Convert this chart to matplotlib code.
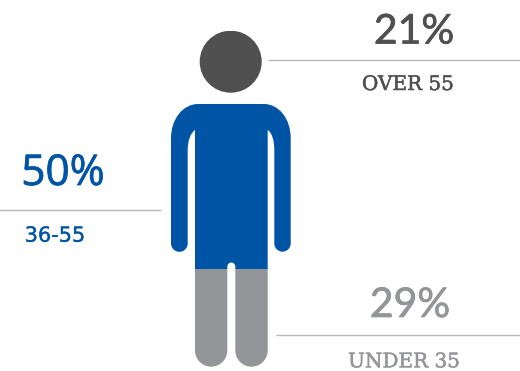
import matplotlib
matplotlib.use("Agg")
import numpy as np
import matplotlib.pyplot as plt
import matplotlib.patheffects as pe
from matplotlib.path import Path

# age groups, stacked from the feet upwards
groups = ["UNDER 35", "36-55", "OVER 55"]
shares = [29, 50, 21]
share_labels = ["29%", "50%", "21%"]
colors = ["#939598", "#0054a6", "#505050"]

W, H = 520, 371
FEET, CROWN = 366.7, 30.7  # pixel rows of the figure's full height


def body_path():
    """outline of the head and body in pixel coordinates"""
    k = 0.5523
    verts, codes = [], []

    def move(p):
        verts.append(p)
        codes.append(Path.MOVETO)

    def line(p):
        verts.append(p)
        codes.append(Path.LINETO)

    def curve(c1, c2, p):
        verts.extend([c1, c2, p])
        codes.extend([Path.CURVE4] * 3)

    def foot(x0, x1, y):
        # half circle from x0 to x1 that bulges away from y
        r = abs(x1 - x0) / 2
        s = 1 if x1 > x0 else -1
        curve((x0, y + k * r), (x0 + s * (1 - k) * r, y + r), (x0 + s * r, y + r))
        curve((x0 + s * (1 + k) * r, y + r), (x1, y + k * r), (x1, y))

    # torso and arms
    move((171, 138))
    curve((171, 119), (183, 104), (198, 104))
    line((264, 104))
    curve((279, 104), (290.7, 119), (290.7, 138))
    line((290.7, 243.5))
    foot(290.7, 274.3, 243.5)
    line((274.3, 150))
    curve((274.3, 140), (272, 133), (267.7, 130))
    # legs
    line((267.7, 350.5))
    foot(267.7, 235.3, 350.5)
    line((235.3, 267))
    curve((235.3, 261), (227.3, 261), (227.3, 267))
    line((227.3, 350.5))
    foot(227.3, 195, 350.5)
    line((195, 130))
    curve((190.7, 133), (187.7, 140), (187.7, 150))
    line((187.7, 243.5))
    foot(187.7, 171, 243.5)
    line((171, 138))
    verts.append((171, 138))
    codes.append(Path.CLOSEPOLY)

    # head
    cx, cy, r = 230.7, 61.7, 31
    move((cx - r, cy))
    curve((cx - r, cy - k * r), (cx - k * r, cy - r), (cx, cy - r))
    curve((cx + k * r, cy - r), (cx + r, cy - k * r), (cx + r, cy))
    curve((cx + r, cy + k * r), (cx + k * r, cy + r), (cx, cy + r))
    curve((cx - k * r, cy + r), (cx - r, cy + k * r), (cx - r, cy))
    verts.append((cx - r, cy))
    codes.append(Path.CLOSEPOLY)
    return Path(verts, codes)


fig = plt.figure(figsize=(W / 100, H / 100), dpi=100)

# pixel axes for the outline, rules and text
ax = fig.add_axes([0, 0, 1, 1])
ax.set_xlim(0, W)
ax.set_ylim(H, 0)
ax.axis("off")

# share axes: 0 at the feet, 100 at the top of the head
per_px = 100 / (FEET - CROWN)
ax_share = fig.add_axes([0, 0, 1, 1], sharex=ax)
ax_share.set_ylim((FEET - H) * per_px, FEET * per_px)
ax_share.axis("off")
ax_share.patch.set_alpha(0)

outline = body_path()
bottoms = np.concatenate(([0], np.cumsum(shares)[:-1]))
bars = ax_share.bar(230.7, shares, width=130, bottom=bottoms, color=colors, linewidth=0)
for bar in bars:
    bar.set_clip_path(outline, ax.transData)

# rules
for (x0, x1, y) in [(267.5, 520, 60), (-1, 160.7, 209.7), (276, 520, 335)]:
    ax.plot([x0, x1], [y, y], color="#b9b9b9", lw=1.0, solid_capstyle="butt")


def label(x, y, text, color, family, size, stroke=0.0):
    t = ax.text(x, y, text, color=color, family=family, fontsize=size,
                ha="center", va="baseline")
    if stroke:
        # a thin outline brings the glyphs up to a medium weight
        t.set_path_effects([pe.withStroke(linewidth=stroke, foreground=color)])


label(414, 43.5, share_labels[2], colors[2], "Lato", 29.5, 0.5)
label(408, 90, groups[2], colors[2], "DejaVu Serif", 14.4, 0.35)

label(63, 185, share_labels[1], colors[1], "Open Sans", 30.5, 0.5)
label(55, 241.7, groups[1], colors[1], "DejaVu Sans", 15, 0.2)

label(410, 317, share_labels[0], colors[0], "Lato", 29.5, 0.5)
label(404, 367.3, groups[0], colors[0], "DejaVu Serif", 14.4, 0.35)

fig.savefig("out.png", dpi=100)
